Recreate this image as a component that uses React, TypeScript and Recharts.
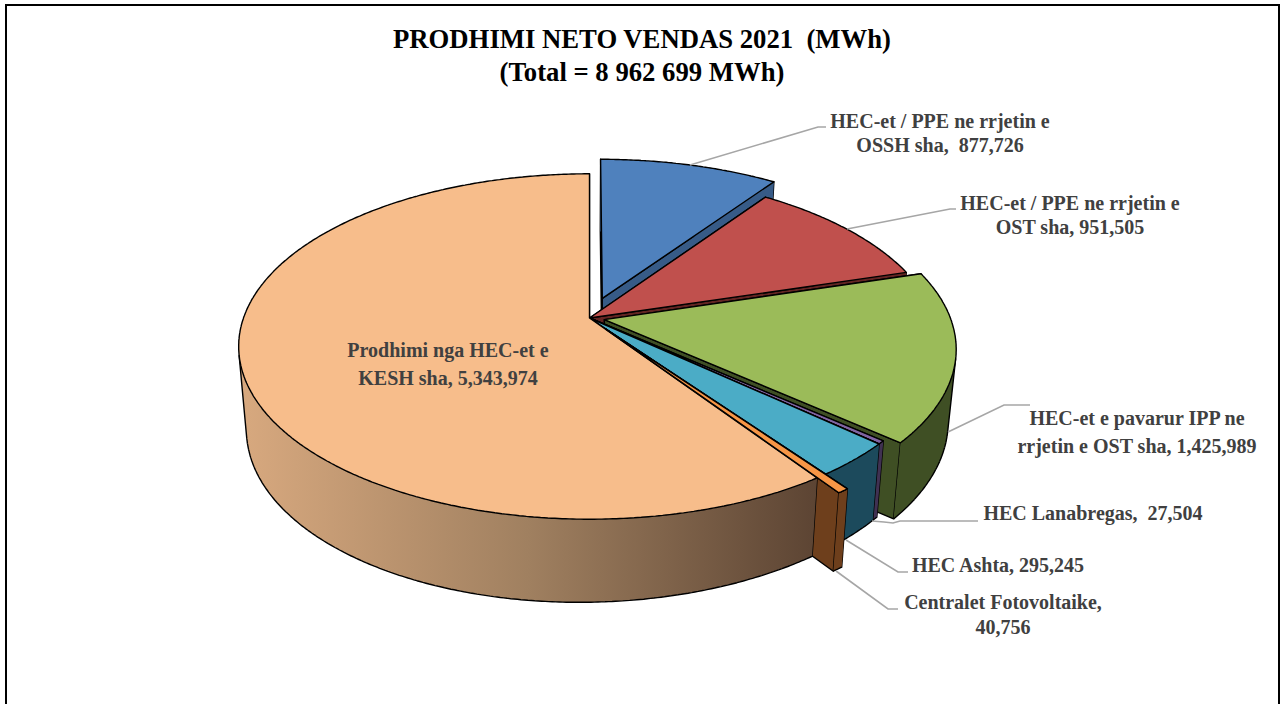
import React from "react";
import { Pie, PieChart } from "recharts";

const SLICE_NAMES = [
  "HEC-et / PPE ne rrjetin e OSSH sha",
  "HEC-et / PPE ne rrjetin e OST sha",
  "HEC-et e pavarur IPP ne rrjetin e OST sha",
  "HEC Lanabregas",
  "HEC Ashta",
  "Centralet Fotovoltaike",
  "Prodhimi nga HEC-et e KESH sha",
];
const SLICE_VALUES = [877726, 951505, 1425989, 27504, 295245, 40756, 5343974];
const LABEL_LINES = [
  ["HEC-et / PPE ne rrjetin e", "OSSH sha,  877,726"],
  ["HEC-et / PPE ne rrjetin e", "OST sha, 951,505"],
  ["HEC-et e pavarur IPP ne", "rrjetin e OST sha, 1,425,989"],
  ["HEC Lanabregas,  27,504"],
  ["HEC Ashta, 295,245"],
  ["Centralet Fotovoltaike,", "40,756"],
  ["Prodhimi nga HEC-et e", "KESH sha, 5,343,974"],
];
const TITLE_LINES = ["PRODHIMI NETO VENDAS 2021  (MWh)", "(Total = 8 962 699 MWh)"];

const data = SLICE_NAMES.map((name, i) => ({ name, value: SLICE_VALUES[i] }));

// styling and layout, one entry per slice
const TOP_COLORS = ["#4F81BD", "#C0504D", "#9BBB59", "#8064A2", "#4BACC6", "#F79646", "#F7BD8B"];
const WALL_COLORS = ["#375B87", "#632523", "#3F4F24", "#403152", "#1C4A5C", "#6E3F1C", "url(#peachWall)"];
const EXPLODE = [0.125, 0, 0.044, 0, 0, 0.08, 0];
const LABEL_X = [940, 1070, 1137, 1093, 998, 1003, 448];
const LABEL_Y = [128, 210, 425, 520, 572, 609, 357];
const LABEL_STEP = [24, 24, 28, 0, 0, 25, 28];
const LEADERS = [
  "690,165 818,127 826,127",
  "847,229 950,209 956,209",
  "948,432 1004,405 1030,405",
  "872,521 884,522 893,523 900,521 978,521",
  "846,540 898,572 908,572",
  "836,571 888,609 898,609",
  "",
];

// perspective of the pie plane
const SQUASH = 0.4855;
const TILT = 0.165;
const WALL_DROP = 77;
const WALL_SX = 0.978;
const WALL_SY = 1.03;
const WALL_SKEW = 0.015;
const PV_INDEX = 5;

function project(p: any, u: number, v: number) {
  const w = 1 + TILT * v;
  const X = (p.outerRadius * u) / w;
  const Y = (-p.outerRadius * SQUASH * v) / w;
  return {
    top: [p.cx + X, p.cy + Y],
    bottom: [p.cx + WALL_SX * X, p.cy + WALL_DROP + WALL_SY * Y - WALL_SKEW * X],
  };
}

const toLine = (pts: number[][]) =>
  "M" + pts.map((q) => q[0].toFixed(1) + " " + q[1].toFixed(1)).join("L");
const toPath = (pts: number[][]) => toLine(pts) + "Z";

function area(pts: number[][]) {
  let sum = 0;
  pts.forEach((q, n) => {
    const r = pts[(n + 1) % pts.length];
    sum += q[0] * r[1] - r[0] * q[1];
  });
  return sum;
}

function Slice3D({ part, ...p }: any) {
  const i = SLICE_NAMES.indexOf(p.name);
  const t1 = 90 - p.startAngle;
  const t2 = 90 - p.endAngle;
  const mid = (((t1 + t2) / 2) * Math.PI) / 180;
  const ou = EXPLODE[i] * Math.sin(mid);
  const ov = EXPLODE[i] * Math.cos(mid);

  const steps = Math.max(2, Math.ceil((t2 - t1) * 2));
  const rim = [];
  for (let s = 0; s <= steps; s++) {
    const a = ((t1 + ((t2 - t1) * s) / steps) * Math.PI) / 180;
    rim.push(project(p, ou + Math.sin(a), ov + Math.cos(a)));
  }
  const apex = project(p, ou, ov);
  const first = rim[0];
  const last = rim[rim.length - 1];
  const edge = { stroke: "#000", strokeWidth: 1.4, strokeLinejoin: "round" as const };
  const cutFill = i === 6 ? "#5E4533" : WALL_COLORS[i];

  // the side wall is a strip of quads, all wound the same way so the fill never cancels out.
  // only the part facing the viewer gets an outline, plus the rulings where it turns away
  let wall = "";
  let outline = "";
  let prevSign = 0;
  for (let s = 0; s < rim.length - 1; s++) {
    const quad = [rim[s].top, rim[s + 1].top, rim[s + 1].bottom, rim[s].bottom];
    const sign = area(quad) < 0 ? -1 : 1;
    wall += toPath(sign < 0 ? quad.slice().reverse() : quad);
    if (sign < 0) outline += toLine([rim[s].bottom, rim[s + 1].bottom]);
    if (prevSign && sign !== prevSign) outline += toLine([rim[s].top, rim[s].bottom]);
    prevSign = sign;
  }

  return (
    <g>
      {part !== "top" && (
        <>
          <path d={toPath([apex.top, first.top, first.bottom, apex.bottom])} fill={cutFill} {...edge} />
          <path d={toPath([apex.top, last.top, last.bottom, apex.bottom])} fill={cutFill} {...edge} />
          <path d={wall} fill={WALL_COLORS[i]} stroke="none" />
          <path d={outline} fill="none" {...edge} />
        </>
      )}
      <path d={toPath([apex.top, ...rim.map((r) => r.top)])} fill={TOP_COLORS[i]} {...edge} />
    </g>
  );
}

// the big slice hides the side of the photovoltaic wedge but not its top face,
// so that top face is painted again in a later pie
const mainShape = (p: any) => <Slice3D {...p} />;
const overlayShape = (p: any) => (SLICE_NAMES.indexOf(p.name) === PV_INDEX ? <Slice3D {...p} part="top" /> : <g />);

function renderLabel(p: any) {
  const i = p.index;
  return (
    <g key={i}>
      {LEADERS[i] && <polyline points={LEADERS[i]} fill="none" stroke="#A6A6A6" strokeWidth={1.6} />}
      {LABEL_LINES[i].map((line, n) => (
        <text
          key={n}
          x={LABEL_X[i]}
          y={LABEL_Y[i] + n * LABEL_STEP[i]}
          textAnchor="middle"
          fontFamily="'Liberation Serif', serif"
          fontWeight="bold"
          fontSize={20}
          fill="#404040"
          xmlSpace="preserve"
          style={{ whiteSpace: "pre" }}
        >
          {line}
        </text>
      ))}
    </g>
  );
}

export default function App() {
  const pieProps = {
    data,
    dataKey: "value",
    nameKey: "name",
    cx: 589.5,
    cy: 318,
    innerRadius: 0,
    outerRadius: 346,
    startAngle: 90,
    endAngle: -270,
    stroke: "none",
    isAnimationActive: false,
  };
  return (
    <div style={{ position: "absolute", left: 0, top: 0, width: 1282, height: 704, overflow: "hidden", background: "#fff" }}>
      <div
        style={{
          position: "absolute",
          left: 5,
          top: 4,
          width: 1271,
          height: 720,
          borderTop: "2px solid #000",
          borderLeft: "2px solid #000",
          borderRight: "2px solid #000",
        }}
      />
      <div
        style={{
          position: "absolute",
          left: 0,
          width: 1284,
          top: 23,
          textAlign: "center",
          fontFamily: "'Liberation Serif', serif",
          fontWeight: "bold",
          fontSize: 26.7,
          lineHeight: "33px",
          color: "#000",
          whiteSpace: "pre",
        }}
      >
        {TITLE_LINES.map((line) => (
          <div key={line}>{line}</div>
        ))}
      </div>
      <PieChart width={1282} height={704} margin={{ top: 0, right: 0, bottom: 0, left: 0 }} style={{ position: "absolute", left: 0, top: 0 }}>
        <defs>
          <linearGradient id="peachWall" x1="0" y1="0" x2="1" y2="0">
            <stop offset="0" stopColor="#D8A97F" />
            <stop offset="0.5" stopColor="#A08060" />
            <stop offset="1" stopColor="#5C4433" />
          </linearGradient>
        </defs>
        <Pie {...pieProps} shape={mainShape} label={false} labelLine={false} />
        <Pie {...pieProps} shape={overlayShape} label={renderLabel} labelLine={false} />
      </PieChart>
    </div>
  );
}
